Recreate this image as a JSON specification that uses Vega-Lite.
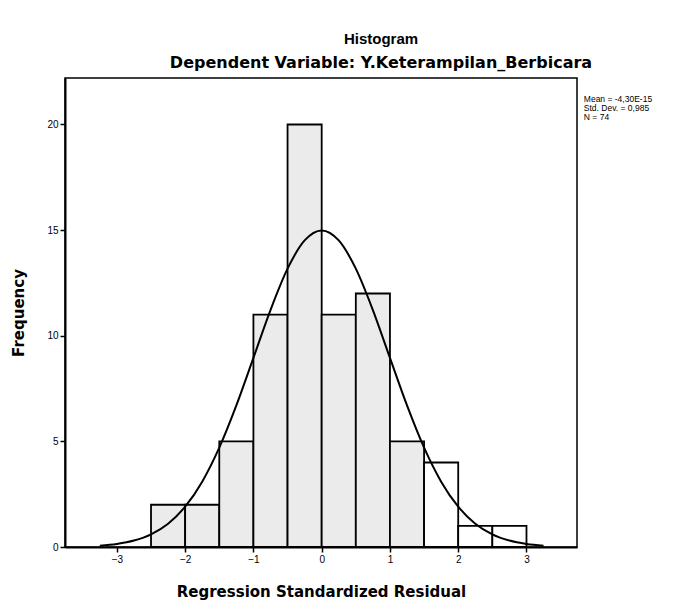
{
  "$schema": "https://vega.github.io/schema/vega-lite/v6.json",
  "autosize": {"type": "none"},
  "width": 512,
  "height": 469,
  "padding": {"left": 65, "top": 78, "right": 120, "bottom": 57},
  "background": "white",
  "config": {
    "font": "Liberation Sans",
    "view": {"stroke": "black", "strokeWidth": 1.5},
    "axis": {
      "grid": false,
      "domainColor": "black",
      "domainWidth": 2,
      "tickColor": "black",
      "tickWidth": 1.5,
      "tickSize": 5,
      "labelColor": "black",
      "labelFontSize": 10,
      "labelFont": "Liberation Sans",
      "titleColor": "black",
      "titleFontSize": 15,
      "titleFontWeight": "bold",
      "titleFont": "DejaVu Sans"
    }
  },
  "title": {
    "text": "Histogram",
    "subtitle": "Dependent Variable: Y.Keterampilan_Berbicara",
    "anchor": "middle",
    "dx": 60,
    "offset": 7,
    "fontSize": 15,
    "fontWeight": "bold",
    "color": "black",
    "subtitleFont": "DejaVu Sans",
    "subtitleFontSize": 16,
    "subtitleFontWeight": "bold",
    "subtitleColor": "black",
    "subtitlePadding": 8
  },
  "datasets": {
    "bins": [
      {"bin_start": -2.5, "bin_end": -2.0, "count": 2},
      {"bin_start": -2.0, "bin_end": -1.5, "count": 2},
      {"bin_start": -1.5, "bin_end": -1.0, "count": 5},
      {"bin_start": -1.0, "bin_end": -0.5, "count": 11},
      {"bin_start": -0.5, "bin_end": 0.0, "count": 20},
      {"bin_start": 0.0, "bin_end": 0.5, "count": 11},
      {"bin_start": 0.5, "bin_end": 1.0, "count": 12},
      {"bin_start": 1.0, "bin_end": 1.5, "count": 5},
      {"bin_start": 1.5, "bin_end": 2.0, "count": 4},
      {"bin_start": 2.0, "bin_end": 2.5, "count": 1},
      {"bin_start": 2.5, "bin_end": 3.0, "count": 1}
    ],
    "normal": [
      {"residual": -3.25, "frequency": 0.065},
      {"residual": -3.0, "frequency": 0.145},
      {"residual": -2.75, "frequency": 0.304},
      {"residual": -2.5, "frequency": 0.598},
      {"residual": -2.25, "frequency": 1.103},
      {"residual": -2.0, "frequency": 1.907},
      {"residual": -1.75, "frequency": 3.093},
      {"residual": -1.5, "frequency": 4.7},
      {"residual": -1.25, "frequency": 6.699},
      {"residual": -1.0, "frequency": 8.951},
      {"residual": -0.75, "frequency": 11.215},
      {"residual": -0.5, "frequency": 13.175},
      {"residual": -0.25, "frequency": 14.511},
      {"residual": 0.0, "frequency": 14.986},
      {"residual": 0.25, "frequency": 14.511},
      {"residual": 0.5, "frequency": 13.175},
      {"residual": 0.75, "frequency": 11.215},
      {"residual": 1.0, "frequency": 8.951},
      {"residual": 1.25, "frequency": 6.699},
      {"residual": 1.5, "frequency": 4.7},
      {"residual": 1.75, "frequency": 3.093},
      {"residual": 2.0, "frequency": 1.907},
      {"residual": 2.25, "frequency": 1.103},
      {"residual": 2.5, "frequency": 0.598},
      {"residual": 2.75, "frequency": 0.304},
      {"residual": 3.0, "frequency": 0.145},
      {"residual": 3.25, "frequency": 0.065}
    ],
    "stats": [
      {"label": "Mean = -4,30E-15\nStd. Dev. = 0,985\nN = 74"}
    ]
  },
  "layer": [
    {
      "data": {"name": "bins"},
      "mark": {"type": "bar", "stroke": "black", "strokeWidth": 1.8},
      "encoding": {
        "x": {
          "field": "bin_start",
          "type": "quantitative",
          "scale": {"domain": [-3.76, 3.74], "nice": false, "zero": false},
          "axis": {
            "title": "Regression Standardized Residual",
            "values": [-3, -2, -1, 0, 1, 2, 3],
            "format": "d",
            "titlePadding": 20
          }
        },
        "x2": {"field": "bin_end"},
        "y": {
          "field": "count",
          "type": "quantitative",
          "scale": {"domain": [0, 22.2], "nice": false},
          "axis": {
            "title": "Frequency",
            "values": [0, 5, 10, 15, 20],
            "titlePadding": 20
          }
        },
        "y2": {"datum": 0},
        "fill": {
          "condition": {"test": "datum.bin_start < 1.5", "value": "#ebebeb"},
          "value": "white"
        }
      }
    },
    {
      "data": {"name": "normal"},
      "mark": {"type": "line", "color": "black", "strokeWidth": 2, "interpolate": "monotone"},
      "encoding": {
        "x": {"field": "residual", "type": "quantitative"},
        "y": {"field": "frequency", "type": "quantitative"}
      }
    },
    {
      "data": {"name": "stats"},
      "mark": {
        "type": "text",
        "align": "left",
        "baseline": "top",
        "lineBreak": "\n",
        "fontSize": 8.5,
        "lineHeight": 9,
        "color": "black",
        "font": "Liberation Sans"
      },
      "encoding": {
        "x": {"datum": 3.84},
        "y": {"datum": 21.4},
        "text": {"field": "label"}
      }
    }
  ]
}
